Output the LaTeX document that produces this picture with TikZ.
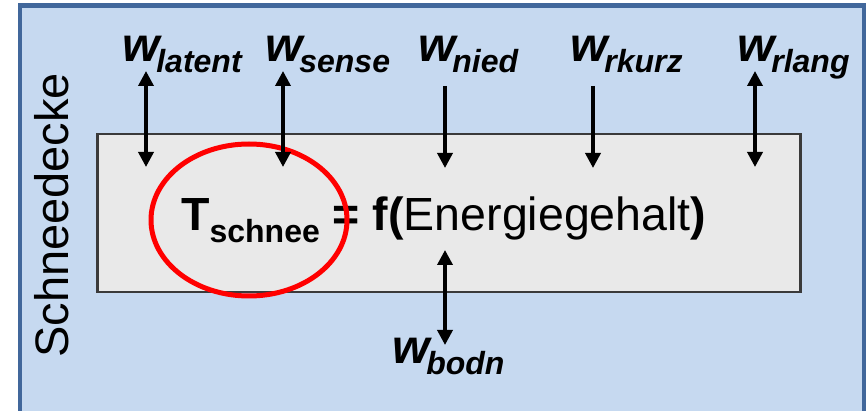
\documentclass[tikz,border=0pt]{standalone}
\usepackage{fontspec}
\setmainfont{Liberation Sans}
\usetikzlibrary{arrows.meta}
\definecolor{frameblue}{HTML}{41679B}
\definecolor{panelblue}{HTML}{C6D9F0}
\definecolor{snowgray}{HTML}{E9E9E9}
\definecolor{boxedge}{HTML}{3A3A3A}
\newcommand{\wlab}[1]{{\fontsize{48}{48}\selectfont\bfseries\itshape w}\kern-3pt\raisebox{-11pt}{\fontsize{32}{32}\selectfont\bfseries\itshape #1}}
\tikzset{
  flux/.style={line width=3.5pt, -{Triangle[width=15pt,length=15pt]}},
  bothflux/.style={line width=3.5pt, {Triangle[width=15pt,length=15pt]}-{Triangle[width=15pt,length=15pt]}},
  wlabel/.style={anchor=base west, inner sep=0pt, outer sep=0pt},
}
\begin{document}
\begin{tikzpicture}[x=1pt,y=-1pt]
\useasboundingbox (0,0) rectangle (867,411);
\begin{scope}
\clip (0,0) rectangle (867,411);
\draw[frameblue, line width=4.5pt, fill=panelblue] (20,5.5) rectangle (864,440);
\end{scope}
% snow layer
\node[draw=boxedge, line width=2.5pt, fill=snowgray, minimum width=703pt, minimum height=158pt, inner sep=0pt, anchor=north west] (box) at (96,133) {};
% side label
\node[rotate=90, anchor=base west, inner sep=0pt] (side) at (68,358) {\fontsize{47}{47}\selectfont Schneedecke};
% equation
\node[anchor=base west, inner sep=0pt] (eq) at (181,231) {\fontsize{46.5}{46.5}\selectfont\textbf{T}\raisebox{-12pt}{\fontsize{32}{32}\selectfont\bfseries schnee} \textbf{= f(}Energiegehalt\textbf{)}};
% red ellipse
\draw[red, line width=5pt] (249,220) ellipse [x radius=98, y radius=76] node (ring) {};
% labels
\node[wlabel] (lat) at (122,62) {\wlab{latent}};
\node[wlabel] (sen) at (265,62) {\wlab{sense}};
\node[wlabel] (nie) at (418,62) {\wlab{nied}};
\node[wlabel] (rku) at (570,62) {\wlab{rkurz}};
\node[wlabel] (rla) at (737,62) {\wlab{rlang}};
\node[wlabel] (bod) at (392,363) {\wlab{bodn}};
% arrow end points
\coordinate (latT) at (146,71); \coordinate (latB) at (146,167);
\coordinate (senT) at (283,71); \coordinate (senB) at (283,167);
\coordinate (nieT) at (445,86); \coordinate (nieB) at (445,168);
\coordinate (rkuT) at (593,86); \coordinate (rkuB) at (593,168);
\coordinate (rlaT) at (755,71); \coordinate (rlaB) at (755,167);
\coordinate (bodT) at (445,250); \coordinate (bodB) at (445,345);
\draw[bothflux] (latT) -- (latB);
\draw[bothflux] (senT) -- (senB);
\draw[flux] (nieT) -- (nieB);
\draw[flux] (rkuT) -- (rkuB);
\draw[bothflux] (rlaT) -- (rlaB);
\draw[bothflux] (bodT) -- (bodB);
\end{tikzpicture}
\end{document}
